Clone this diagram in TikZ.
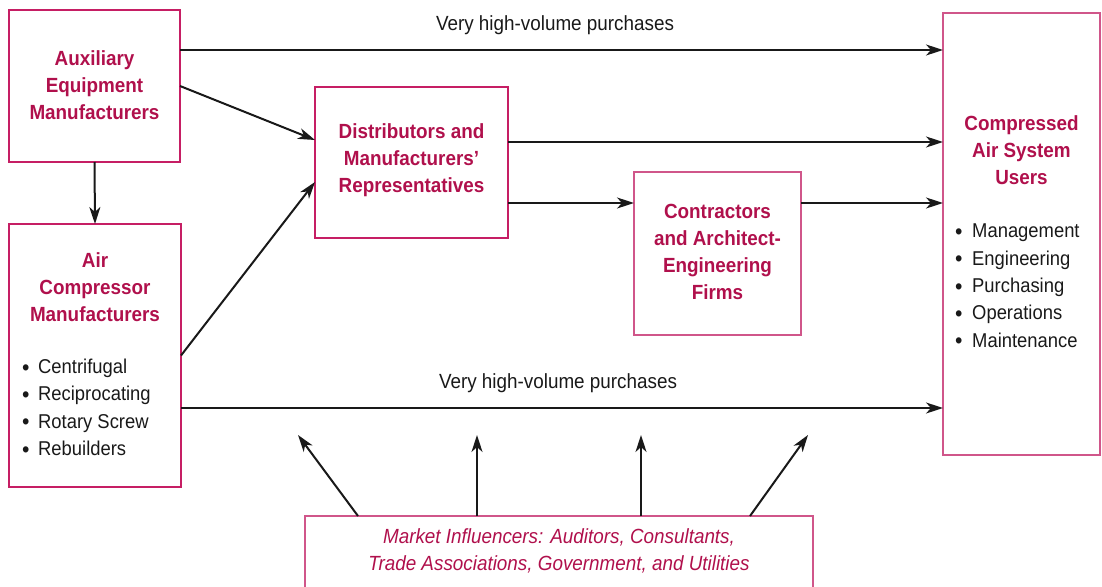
\documentclass[tikz,border=0pt]{standalone}
\usepackage{fontspec}
\setmainfont{Liberation Sans}[FakeStretch=0.92]
\usetikzlibrary{arrows.meta,calc}
\definecolor{ttlc}{RGB}{176,16,76}
\definecolor{bord}{RGB}{198,30,100}
\definecolor{bordl}{RGB}{208,86,138}
\definecolor{ink}{RGB}{25,25,25}
\newcommand\bulA{\makebox[16pt][l]{\raisebox{-1.8pt}{\fontsize{23}{23}\selectfont\textbullet}}}
\newcommand\bulB{\makebox[17pt][l]{\raisebox{-1.8pt}{\fontsize{23}{23}\selectfont\textbullet}}}
\begin{document}
\begin{tikzpicture}[x=1pt,y=-1pt,
  box/.style={draw=bord, line width=1.3pt, inner sep=0pt, outer sep=0pt},
  boxl/.style={box, draw=bordl},
  ttl/.style={text=ttlc, font=\bfseries\fontsize{20.5}{27}\selectfont, align=center, inner sep=0pt},
  lst/.style={text=ink, font=\fontsize{20}{27.3}\selectfont, align=left, inner sep=0pt, anchor=west},
  lbl/.style={text=ink, font=\fontsize{20.5}{27}\selectfont, inner sep=0pt},
  infl/.style={text=ttlc, font=\itshape\fontsize{20.5}{27}\selectfont, align=center, inner sep=0pt},
  arr/.style={draw=ink, line width=2pt, -{Stealth[length=17pt,width=11pt,inset=5pt]}}]
\useasboundingbox (0,0) rectangle (1102,586);

% boxes
\node[box, minimum width=171pt, minimum height=152pt] (aux) at (94.5,86) {};
\node[box, minimum width=172pt, minimum height=263pt] (acm) at (95,355.5) {};
\node[box, minimum width=193pt, minimum height=151pt] (dist) at (411.5,162.5) {};
\node[boxl, minimum width=167pt, minimum height=163pt] (contr) at (717.5,253.5) {};
\node[boxl, minimum width=157pt, minimum height=442pt] (users) at (1021.5,234) {};
\node[boxl, minimum width=508pt, minimum height=90pt] (mkt) at (559,561) {};

% texts
\node[ttl] (auxt) at (94.5,85) {Auxiliary\\Equipment\\Manufacturers};
\node[ttl] (acmt) at (95,287) {Air\\Compressor\\Manufacturers};
\node[lst] (acml) at (22,408) {\bulA Centrifugal\\\bulA Reciprocating\\\bulA Rotary Screw\\\bulA Rebuilders};
\node[ttl] (distt) at (411.5,160) {Distributors and\\Manufacturers’\\Representatives};
\node[ttl] (contrt) at (717.5,252) {Contractors\\and Architect-\\Engineering\\Firms};
\node[ttl] (userst) at (1021.5,150) {Compressed\\Air System\\Users};
\node[lst] (usersl) at (955,286.5) {\bulB Management\\\bulB Engineering\\\bulB Purchasing\\\bulB Operations\\\bulB Maintenance};
\node[infl] (mktt) at (559,551) {Market Influencers: Auditors, Consultants,\\Trade Associations, Government, and Utilities};

\node[lbl] (lab1) at (555,25) {Very high-volume purchases};
\node[lbl] (lab2) at (558,383) {Very high-volume purchases};

% connectors
\coordinate (a1) at ($(aux.north east)+(0,40)$);
\draw[arr] (a1) -- (users.west |- a1);
\draw[arr] (aux.east) -- ($(dist.west)+(0,-22.5)$);
\draw[arr] (aux.south) -- (acm.north);
\draw[arr] (acm.east) -- ($(dist.west)+(0,19.5)$);
\coordinate (d1) at ($(dist.east)+(0,-20.5)$);
\draw[arr] (d1) -- (users.west |- d1);
\coordinate (c1) at ($(contr.west)+(0,-50.5)$);
\draw[arr] (dist.east |- c1) -- (c1);
\coordinate (c2) at ($(contr.east)+(0,-50.5)$);
\draw[arr] (c2) -- (users.west |- c2);
\coordinate (b1) at ($(acm.east)+(0,52.5)$);
\draw[arr] (b1) -- (users.west |- b1);

\coordinate (m1) at (298,435);
\coordinate (m2) at (477,435);
\coordinate (m3) at (641,435);
\coordinate (m4) at (808,435);
\coordinate (s1) at (358,516);
\coordinate (s4) at (750,516);
\draw[arr] (s1 |- mkt.north) -- (m1);
\draw[arr] (m2 |- mkt.north) -- (m2);
\draw[arr] (m3 |- mkt.north) -- (m3);
\draw[arr] (s4 |- mkt.north) -- (m4);
\end{tikzpicture}
\end{document}
